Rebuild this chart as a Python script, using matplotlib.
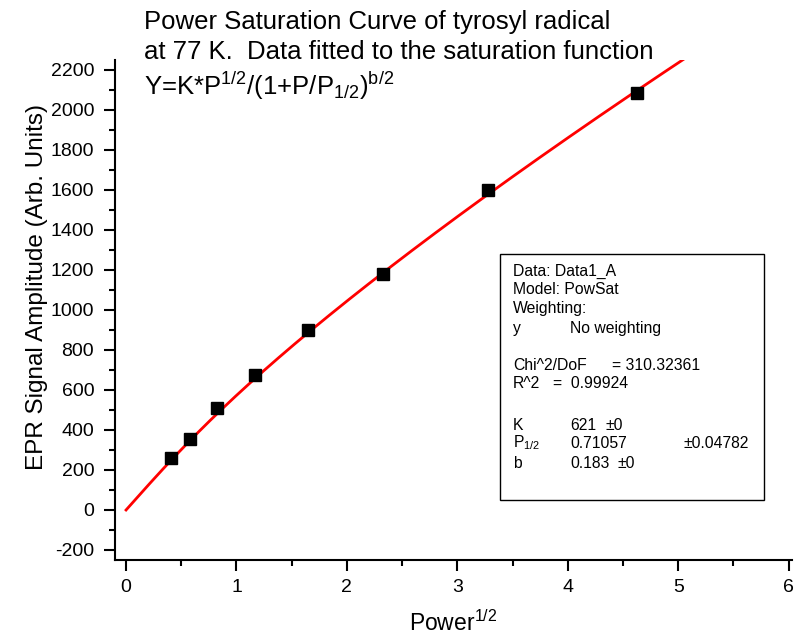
import numpy as np
import matplotlib.pyplot as plt
from matplotlib.patches import Rectangle
from matplotlib.ticker import MultipleLocator

plt.rcParams['font.family'] = ['Liberation Sans', 'DejaVu Sans']
plt.rcParams['mathtext.fontset'] = 'custom'
plt.rcParams['mathtext.rm'] = 'Liberation Sans'
plt.rcParams['mathtext.default'] = 'regular'
plt.rcParams['axes.unicode_minus'] = False

# measured points (x = Power^1/2)
sqrt_power = [0.41, 0.58, 0.82, 1.17, 1.65, 2.33, 3.28, 4.63]
amplitude = [260, 355, 510, 675, 900, 1180, 1600, 2085]

# fit parameters shown in the box
K = 621
P_half = 0.71057
b = 0.183

W, H = 798, 637


def fx(px):
    return px / W


def fy(py):
    return 1 - py / H


fig = plt.figure(figsize=(W / 100, H / 100), dpi=100)
ax = fig.add_axes([fx(115), fy(560), fx(792) - fx(115), fy(60) - fy(560)])

### Fitted saturation curve ###
x_fit = np.linspace(0, 5.3, 300)
y_fit = K * x_fit / (1 + x_fit ** 2 / P_half) ** (b / 2)
ax.plot(x_fit, y_fit, color='red', linewidth=2, zorder=2)

### Data points ###
ax.plot(sqrt_power, amplitude, linestyle='none', marker='s', markersize=8.5,
        color='black', zorder=3)

ax.set_xlim(-0.1, 6.03)
ax.set_ylim(-250, 2250)

ax.spines['top'].set_visible(False)
ax.spines['right'].set_visible(False)
for side in ('left', 'bottom'):
    ax.spines[side].set_linewidth(1.5)

ax.xaxis.set_major_locator(MultipleLocator(1))
ax.xaxis.set_minor_locator(MultipleLocator(0.5))
ax.yaxis.set_major_locator(MultipleLocator(200))
ax.yaxis.set_minor_locator(MultipleLocator(100))
ax.tick_params(which='major', direction='out', length=8, width=1.5, labelsize=14)
ax.tick_params(axis='y', which='major', pad=7)
ax.tick_params(axis='x', which='major', pad=6)
ax.tick_params(which='minor', direction='out', length=4, width=1.5)

ax.set_xlabel('Power$^{1/2}$', fontsize=16.5, labelpad=10)
ax.set_ylabel('EPR Signal Amplitude (Arb. Units)', fontsize=17.5)
ax.yaxis.set_label_coords(-0.099, 0.546)

### Title ###
fig.text(fx(144), fy(22), 'Power Saturation Curve of tyrosyl radical',
         fontsize=18.5, va='center', ha='left')
fig.text(fx(144), fy(52), 'at 77 K.  Data fitted to the saturation function',
         fontsize=18.5, va='center', ha='left')
fig.text(fx(144), fy(86), 'Y=K*P$^{1/2}$/(1+P/P$_{1/2}$)$^{b/2}$',
         fontsize=18.5, va='center', ha='left')

### Fit results box ###
box = Rectangle((fx(500), fy(500)), fx(764) - fx(500), fy(254) - fy(500),
                transform=fig.transFigure, facecolor='white',
                edgecolor='black', linewidth=1, zorder=4)
fig.patches.append(box)

box_text = [
    (513, 271, 'Data: Data1_A'),
    (513, 290, 'Model: PowSat'),
    (513, 308, 'Weighting:'),
    (513, 328, 'y'),
    (570, 328, 'No weighting'),
    (513, 366, 'Chi^2/DoF'),
    (612, 366, '= 310.32361'),
    (513, 384, 'R^2'),
    (553, 384, '=  0.99924'),
    (513, 425, 'K'),
    (570, 425, '621'),
    (606, 425, '±0'),
    (513, 443, 'P$_{1/2}$'),
    (570, 443, '0.71057'),
    (683, 443, '±0.04782'),
    (513, 463, 'b'),
    (570, 463, '0.183'),
    (617, 463, '±0'),
]
for px, py, s in box_text:
    fig.text(fx(px), fy(py), s, fontsize=11.3, va='center', ha='left', zorder=5)

fig.savefig('out.png', dpi=100)
